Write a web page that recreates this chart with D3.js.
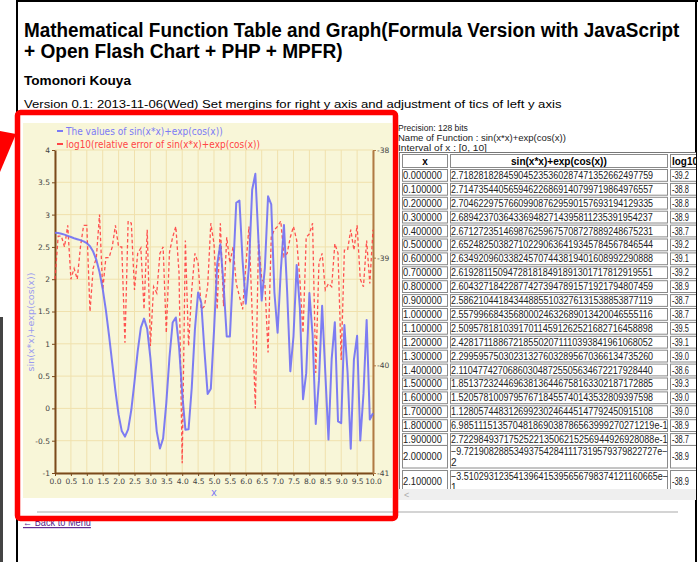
<!DOCTYPE html>
<html><head><meta charset="utf-8">
<script src="https://cdn.jsdelivr.net/npm/d3@7"></script>
<style>html,body{margin:0;padding:0;background:#fff;overflow:hidden}</style>
</head><body>
<svg id="c" width="698" height="562"></svg>
<script>
// ---------------- data ----------------
const xValues = [0.0,0.1,0.2,0.3,0.4,0.5,0.6,0.7,0.8,0.9,1.0,1.1,1.2,1.3,1.4,1.5,1.6,1.7,1.8,1.9,
  2.0,2.1,2.2,2.3,2.4,2.5,2.6,2.7,2.8,2.9,3.0,3.1,3.2,3.3,3.4,3.5,3.6,3.7,3.8,3.9,
  4.0,4.1,4.2,4.3,4.4,4.5,4.6,4.7,4.8,4.9,5.0,5.1,5.2,5.3,5.4,5.5,5.6,5.7,5.8,5.9,
  6.0,6.1,6.2,6.3,6.4,6.5,6.6,6.7,6.8,6.9,7.0,7.1,7.2,7.3,7.4,7.5,7.6,7.7,7.8,7.9,
  8.0,8.1,8.2,8.3,8.4,8.5,8.6,8.7,8.8,8.9,9.0,9.1,9.2,9.3,9.4,9.5,9.6,9.7,9.8,9.9,10.0];

const fValues = [2.7183,2.7147,2.7046,2.6894,2.6713,2.6525,2.6349,2.6193,2.6043,2.5862,2.5580,
  2.5096,2.4282,2.2996,2.1105,1.8514,1.5206,1.1281,0.6985,0.2723,-0.0972,-0.3510,
  -0.4368,-0.3244,-0.0213,0.4157,0.8835,1.2502,1.3897,1.2282,0.7837,0.1841,
  -0.3592,-0.6219,-0.4645,0.0809,0.7914,1.3300,1.4080,0.9615,0.2323,-0.3292,
  -0.3229,0.3179,1.2240,1.7955,1.6326,0.8890,0.2244,0.3041,1.1956,2.2286,
  2.5417,1.9243,1.1125,1.1121,2.1161,3.1834,3.2184,2.2783,1.6204,2.2034,
  3.3838,3.6308,2.5808,1.6685,2.1761,3.2834,3.1588,1.7941,1.1716,2.1269,
  2.8374,1.8091,0.5741,1.1201,2.2217,1.5554,0.1429,0.5456,1.7851,1.1394,
  -0.2419,0.4299,1.5874,0.5508,-0.4833,0.7615,1.3350,-0.2010,-0.2278,1.2917,
  0.5592,-0.6248,0.7538,1.1239,-0.4963,0.2247,1.3694,-0.1718,-0.0743];

const errValues = [-39.2,-38.8,-38.8,-38.9,-38.7,-39.2,-39.1,-39.2,-38.9,-38.7,-38.7,-39.5,-39.1,-39.0,-38.6,-39.3,-39.0,-39.0,-38.9,-38.7,-38.9,-38.9,
  -39.79,-38.66,-38.68,-39.30,-38.96,-38.91,-39.48,-38.74,-39.82,-39.27,-39.33,-38.96,-38.90,-39.70,-38.95,-38.81,-38.71,-39.14,-40.91,-38.84,-39.82,-39.30,-38.96,-39.05,-39.48,-39.45,-39.27,-38.68,-38.87,
  -39.48,-38.68,-39.45,-38.81,-39.05,-38.90,-39.24,-39.36,-39.48,-39.08,-38.71,-39.51,-40.40,-38.84,-39.20,-39.24,-39.88,-38.81,-38.74,-38.71,-38.66,-38.99,-38.96,-38.81,-38.71,
  -38.84,-39.20,-39.70,-38.81,-38.78,-38.68,-40.07,-39.05,-38.96,-39.30,-39.24,-39.27,-38.87,-38.96,-39.95,-38.93,-38.93,-38.74,-38.93,-38.70,-39.20,-39.27,-38.84,-39.24,-38.74];

const leftTicks = [-1,-0.5,0,0.5,1,1.5,2,2.5,3,3.5,4];
const leftTickLabels = ["-1","-0.5","0","0.5","1","1.5","2","2.5","3","3.5","4"];
const rightTicks = [-41,-40,-39,-38];
const xTicks = [0,0.5,1,1.5,2,2.5,3,3.5,4,4.5,5,5.5,6,6.5,7,7.5,8,8.5,9,9.5,10];

const legendLabels = ["The values of sin(x*x)+exp(cos(x))","log10(relative error of sin(x*x)+exp(cos(x))"];
const leftAxisTitle = "sin(x*x)+exp(cos(x))";
const xAxisTitle = "x";

const titleLines = ["Mathematical Function Table and Graph(Formula Version with JavaScript","+ Open Flash Chart + PHP + MPFR)"];
const authorText = "Tomonori Kouya";
const versionText = "Version 0.1: 2013-11-06(Wed) Set mergins for right y axis and adjustment of tics of left y axis";
const infoLines = ["Precision: 128 bits","Name of Function : sin(x*x)+exp(cos(x))","Interval of x : [0, 10]"];
const tableHeader = ["x","sin(x*x)+exp(cos(x))","log10"];
const tableStrings = [
 "2.718281828459045235360287471352662497759",
 "2.714735440565946226869140799719864976557",
 "2.704622975766099087629590157693194129335",
 "2.689423703643369482714395811235391954237",
 "2.671272351469876259675708727889248675231",
 "2.652482503827102290636419345784567846544",
 "2.634920960338245707443819401608992290888",
 "2.619281150947281818491891301717812919551",
 "2.604327184228774273947891571921794807459",
 "2.586210441843448855103276131538853877119",
 "2.557996684356800024632689013420046555116",
 "2.509578181039170114591262521682716458898",
 "2.428171188672185502071110393841961068052",
 "2.299595750302313276032895670366134735260",
 "2.110477427068603048725505634672217928440",
 "1.851372324469638136446758163302187172885",
 "1.520578100979576718455740143532809397598",
 "1.128057448312699230246445147792450915108",
 "6.985111513570481869038786563999270271219e-1",
 "2.722984937175252213506215256944926928088e-1",
 "\u22129.721908288534937542841117319579379822727e\u2212|2",
 "\u22123.510293123541396415395656798374121160665e\u2212|1"];
const backLinkText = "\u2190 Back to Menu";

// ---------------- helpers ----------------
const svg = d3.select("#c");
// draws a text and squeezes it horizontally to the given width (scale transform)
function fitText(parent, str, x, y, width, attrs){
  const t = parent.append("text").text(str);
  Object.entries(attrs||{}).forEach(([k,v])=>t.attr(k,v));
  const w = t.node().getComputedTextLength();
  const k = w > 0 ? width / w : 1;
  t.attr("transform", `translate(${x},${y}) scale(${k},1)`);
  return t;
}

svg.append("rect").attr("width",698).attr("height",562).attr("fill","#fff");

// page frame
svg.append("line").attr("x1",17).attr("x2",698).attr("y1",1).attr("y2",1).attr("stroke","#000").attr("stroke-width",2);
svg.append("line").attr("x1",17).attr("x2",17).attr("y1",0).attr("y2",562).attr("stroke","#000").attr("stroke-width",2);
svg.append("line").attr("x1",696).attr("x2",696).attr("y1",0).attr("y2",562).attr("stroke","#000").attr("stroke-width",2);
svg.append("rect").attr("x",0).attr("y",317).attr("width",3).attr("height",245).attr("fill","#444");

const page = "'Liberation Sans', Arial, sans-serif";
fitText(svg, titleLines[0], 24, 37, 656, {"font-family":page,"font-weight":"bold","font-size":20});
fitText(svg, titleLines[1], 24, 58, 319, {"font-family":page,"font-weight":"bold","font-size":20});
fitText(svg, authorText, 24, 85, 107, {"font-family":page,"font-weight":"bold","font-size":13});
fitText(svg, versionText, 24, 108, 538, {"font-family":page,"font-size":11.5});

// back link (partly hidden by red box)
fitText(svg, backLinkText, 23, 526, 68, {"font-family":page,"font-size":11,"fill":"#551a8b","text-decoration":"underline"});

// ---------------- chart ----------------
const chartFont = "'DejaVu Sans', Verdana, sans-serif";
svg.append("rect").attr("x",23).attr("y",123).attr("width",369).attr("height",375).attr("fill","#f8f6d8");

const x = d3.scaleLinear().domain([0,10]).range([55,373]);
const yL = d3.scaleLinear().domain([-1,4]).range([473,150]);
const yR = d3.scaleLinear().domain([-41,-38]).range([473,150]);

const grid = svg.append("g").attr("stroke","#f0e1ad").attr("stroke-width",1);
grid.selectAll(".gv").data(xTicks).join("line").attr("x1",d=>x(d)).attr("x2",d=>x(d)).attr("y1",150).attr("y2",473);
grid.selectAll(".gh").data(leftTicks).join("line").attr("y1",d=>yL(d)).attr("y2",d=>yL(d)).attr("x1",55).attr("x2",373);

function styleAxis(g, color){
  g.select(".domain").attr("stroke",color).attr("stroke-width",2);
  g.selectAll(".tick line").attr("stroke",color);
  g.selectAll(".tick text").attr("fill","#444").attr("font-family",chartFont).attr("font-size",7.5);
}
const gL = svg.append("g").attr("transform","translate(55,0)")
  .call(d3.axisLeft(yL).tickValues(leftTicks).tickFormat((d,i)=>leftTickLabels[i]).tickSize(3).tickSizeOuter(0).tickPadding(2));
styleAxis(gL,"#7a4a1c");
const gB = svg.append("g").attr("transform","translate(0,473)")
  .call(d3.axisBottom(x).tickValues(xTicks).tickFormat(d3.format(".1f")).tickSize(3).tickSizeOuter(0).tickPadding(3));
styleAxis(gB,"#7a4a1c");
const gR = svg.append("g").attr("transform","translate(373,0)")
  .call(d3.axisRight(yR).tickValues(rightTicks).tickFormat(d=>String(d)).tickSize(3).tickSizeOuter(0).tickPadding(1));
styleAxis(gR,"#b07a45");

svg.append("text").attr("transform","translate(34,322) rotate(-90)").attr("text-anchor","middle")
  .attr("font-family",chartFont).attr("font-size",9.5).attr("fill","#9a9af0").text(leftAxisTitle);
svg.append("text").attr("x",214).attr("y",496).attr("text-anchor","middle")
  .attr("font-family",chartFont).attr("font-size",10).attr("fill","#7d7df5").text(xAxisTitle);

// series
const lineF = d3.line().x((d,i)=>x(xValues[i])).y(d=>yL(d));
const lineE = d3.line().x((d,i)=>x(xValues[i])).y(d=>yR(d));
svg.append("path").attr("d",lineE(errValues)).attr("fill","none").attr("stroke","#ff4040")
  .attr("stroke-width",1.3).attr("stroke-dasharray","3.5,2.5").attr("opacity",0.9);
svg.append("path").attr("d",lineF(fValues)).attr("fill","none").attr("stroke","#6f6ff5")
  .attr("stroke-width",2).attr("opacity",0.9).attr("stroke-linejoin","round");

// legend
const legendColors = ["#7b7bf5","#ff4545"];
const legendLens = [157,194];
legendLabels.forEach((t,i)=>{
  const cy = 131 + i*13;
  svg.append("line").attr("x1",57).attr("x2",63).attr("y1",cy).attr("y2",cy).attr("stroke",legendColors[i]).attr("stroke-width",2);
  fitText(svg, t, 66, cy+4, legendLens[i], {"font-family":chartFont,"font-size":10.5,"fill":legendColors[i]});
});

// ---------------- right panel: info + table ----------------
const info = svg.append("g").attr("font-family",page).attr("font-size",9.5).attr("fill","#222");
const infoLens = [70,168,89];
infoLines.forEach((t,i)=>{ fitText(info, t, 398, 131+i*10, infoLens[i], {}); });

svg.append("defs").append("clipPath").attr("id","tclip").append("rect").attr("x",395).attr("y",140).attr("width",301).attr("height",349);
const tbl = svg.append("g").attr("clip-path","url(#tclip)").attr("font-family",page);
tbl.append("rect").attr("x",399.5).attr("y",152.5).attr("width",320).attr("height",400).attr("fill","#fff").attr("stroke","#777");

const cols = [{x:402,w:46},{x:450,w:218},{x:670,w:40}];
function cellRect(c,top,h){
  tbl.append("rect").attr("x",cols[c].x+0.5).attr("y",top+0.5).attr("width",cols[c].w-1).attr("height",h-1)
    .attr("fill","#fff").attr("stroke","#8a8a8a");
}
cols.forEach((c,i)=>cellRect(i,154,14));
tbl.append("text").attr("x",425).attr("y",165).attr("text-anchor","middle").attr("font-size",10).attr("font-weight","bold").text(tableHeader[0]);
fitText(tbl, tableHeader[1], 511, 165, 96, {"font-size":10,"font-weight":"bold"});
fitText(tbl, tableHeader[2], 672, 165, 26, {"font-size":10,"font-weight":"bold"});

tableStrings.forEach((s,i)=>{
  let top, h;
  if (i < 20) { top = 169 + i*13.9; h = 12.8; }
  else { top = 445 + (i-20)*25; h = 23.5; }
  cols.forEach((c,ci)=>cellRect(ci,top,h));
  const mid = top + h/2 + 3.5;
  const ta = {"font-size":10,"fill":"#222"};
  fitText(tbl, xValues[i].toFixed(6), 403, mid, 39, ta);
  const parts = s.split("|");
  if (parts.length === 1) {
    fitText(tbl, s, 451, mid, s.length*4.93, ta);
  } else {
    fitText(tbl, parts[0], 451, top+10, parts[0].length*4.93, ta);
    tbl.append("text").attr("x",451).attr("y",top+21).attr("font-size",10).attr("fill","#222").text(parts[1]);
  }
  fitText(tbl, errValues[i].toFixed(1), 672, mid, 17, ta);
});

// scrollbar
svg.append("rect").attr("x",398).attr("y",489).attr("width",298).attr("height",11).attr("fill","#efefef");
svg.append("text").attr("x",404).attr("y",498).attr("font-family",page).attr("font-size",9).attr("fill","#aaa").text("<");
svg.append("line").attr("x1",37).attr("x2",678).attr("y1",512).attr("y2",512).attr("stroke","#d4d4d4").attr("stroke-width",2);

// ---------------- red annotation ----------------
svg.append("rect").attr("x",17.5).attr("y",112.5).attr("width",378).attr("height",406).attr("rx",3)
  .attr("fill","none").attr("stroke","#ff0000").attr("stroke-width",5.5);
svg.append("path").attr("d","M0,131 L16,134 L0,172 Z").attr("fill","#ff0000");
</script>
</body></html>
